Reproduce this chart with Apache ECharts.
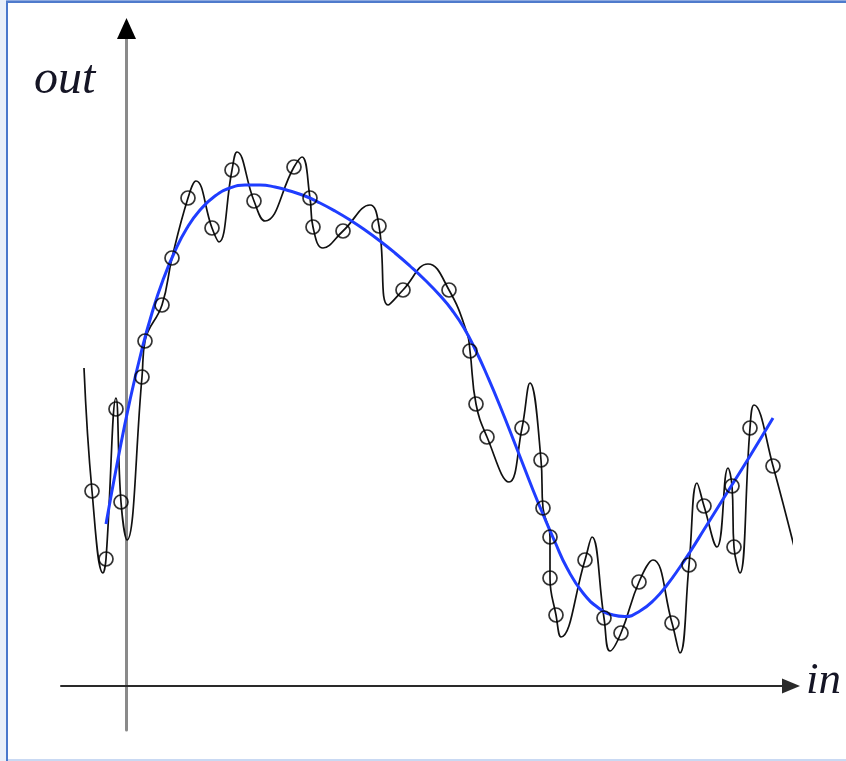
<!DOCTYPE html>
<html>
<head>
<meta charset="utf-8">
<script src="https://cdn.jsdelivr.net/npm/echarts@6/dist/echarts.min.js"></script>
<style>
  html, body { margin: 0; padding: 0; background: #fff; }
  #wrap { position: relative; width: 846px; height: 761px; overflow: hidden; }
  #chart { position: absolute; left: 0; top: 0; width: 846px; height: 761px; }
  .edge { position: absolute; z-index: 5; }
</style>
</head>
<body>
<div id="wrap">
  <div id="chart"></div>
  <div class="edge" style="left:0;top:0;width:6px;height:761px;background:#e9eff9;"></div>
  <div class="edge" style="left:6px;top:0;width:2px;height:761px;background:#4a78cc;"></div>
  <div class="edge" style="left:6px;top:0;width:840px;height:1px;background:#8eaae0;"></div>
  <div class="edge" style="left:6px;top:1px;width:840px;height:2px;background:#4f7bcc;"></div>
  <div class="edge" style="left:8px;top:759px;width:838px;height:2px;background:#c9d9f3;"></div>
</div>
<script>
// Axis labels
const xName = 'in';
const yName = 'out';

// Observed data points (circles): [in, out]
const samples = [
  [-3.45, 19.5], [-2.05, 12.7], [-1.05, 27.7], [-0.55, 18.4], [1.55, 30.9],
  [1.85, 34.5], [3.55, 38.1], [4.55, 42.8], [6.15, 48.8], [8.55, 45.8],
  [10.55, 51.6], [12.75, 48.5], [16.75, 51.9], [18.35, 48.8], [18.65, 45.9],
  [21.65, 45.5], [25.25, 46.0], [27.65, 39.6], [32.25, 39.6], [34.35, 33.5],
  [34.95, 28.2], [36.05, 24.9], [39.55, 25.8], [41.45, 22.6], [41.65, 17.8],
  [42.35, 14.9], [42.35, 10.8], [42.95, 7.1], [45.85, 12.6], [47.75, 6.8],
  [49.45, 5.3], [51.25, 10.4], [54.55, 6.3], [56.25, 12.1], [57.75, 18.0],
  [60.55, 20.0], [60.75, 13.9], [62.35, 25.8], [64.65, 22.0]
];

// Overfitted (wiggly) curve: [in, out]
const overfit = [
  [-4.25, 31.8], [-3.45, 19.5], [-2.35, 11.3], [-2.05, 12.7], [-1.05, 28.8],
  [-0.55, 18.4], [0.05, 14.6], [1.55, 30.9], [1.85, 34.5], [3.55, 38.1],
  [4.55, 42.8], [6.15, 48.8], [6.95, 50.5], [8.55, 45.8], [9.25, 44.4],
  [10.55, 51.6], [11.05, 53.4], [12.75, 48.5], [13.85, 46.5], [16.75, 51.9],
  [17.55, 52.9], [18.35, 48.8], [18.65, 45.9], [19.65, 43.8], [21.65, 45.5],
  [24.35, 48.1], [25.25, 46.0], [26.15, 38.1], [27.65, 39.6], [30.15, 42.2],
  [32.25, 39.6], [34.05, 35.3], [34.35, 33.5], [34.95, 28.2], [36.05, 24.9],
  [38.25, 20.4], [39.55, 25.8], [40.35, 30.3], [41.45, 22.6], [41.65, 17.8],
  [42.35, 14.9], [42.35, 10.8], [42.95, 7.1], [43.45, 4.9], [45.85, 12.6],
  [46.55, 14.9], [47.75, 6.8], [48.35, 3.5], [49.45, 5.3], [51.25, 10.4],
  [52.65, 12.6], [54.55, 6.3], [55.35, 3.3], [56.25, 12.1], [57.05, 20.3],
  [57.75, 18.0], [59.05, 13.9], [60.15, 21.8], [60.55, 20.0], [60.75, 13.9],
  [61.35, 11.3], [62.35, 25.8], [62.75, 28.1], [64.65, 22.0], [67.65, 10.3]
];

// Smooth fitted curve: [in, out]
const fitted = [
  [-2.05, 16.2], [-0.85, 22.7], [0.35, 28.6], [1.55, 33.7], [2.55, 37.3],
  [3.65, 40.6], [4.85, 43.5], [6.05, 45.8], [7.35, 47.6], [8.85, 49.0],
  [10.35, 49.8], [11.85, 50.1], [13.35, 50.1], [14.85, 49.9], [16.35, 49.5],
  [17.85, 49.0], [19.35, 48.3], [20.85, 47.5], [22.35, 46.6], [23.85, 45.6],
  [25.35, 44.5], [26.85, 43.3], [28.35, 42.0], [29.85, 40.6], [31.35, 39.05],
  [32.55, 37.6], [33.75, 35.8], [34.95, 33.5], [36.15, 30.85], [37.35, 28.0],
  [39.05, 23.7], [40.65, 19.6], [41.85, 16.7], [42.85, 14.4], [44.05, 11.8],
  [45.65, 9.3], [47.35, 7.7], [48.65, 7.1], [49.85, 6.95], [51.35, 7.5],
  [52.85, 8.7], [54.05, 10.1], [55.35, 11.9], [56.35, 13.4], [57.85, 15.8],
  [59.35, 18.2], [60.85, 20.6], [62.35, 23.0], [64.65, 26.8]
];

const xRange = [-6.55, 66.45];
const yRange = [-4.4, 65.75];

const labelFont = {
  fontFamily: 'Liberation Serif',
  fontStyle: 'italic',
  fontWeight: 'normal',
  color: '#151525'
};

const chart = echarts.init(document.getElementById('chart'), null, { renderer: 'canvas' });
chart.setOption({
  animation: false,
  backgroundColor: 'transparent',
  title: [
    { text: yName, left: 34, top: 56, padding: 0, textStyle: Object.assign({ fontSize: 48 }, labelFont) },
    { text: xName, left: 806, top: 659, padding: 0, textStyle: Object.assign({ fontSize: 45 }, labelFont) }
  ],
  grid: { left: 61, right: 55, top: 28.5, bottom: 31, containLabel: false },
  xAxis: {
    type: 'value', min: xRange[0], max: xRange[1],
    axisLine: {
      show: true, onZero: true,
      symbol: ['none', 'triangle'], symbolSize: [15, 18],
      lineStyle: { color: '#2a2a2a', width: 2 }
    },
    axisTick: { show: false }, axisLabel: { show: false }, splitLine: { show: false }
  },
  yAxis: [
    {
      type: 'value', min: yRange[0], max: yRange[1], position: 'left',
      axisLine: {
        show: true, onZero: true, symbol: 'none',
        lineStyle: { color: '#8a8a8a', width: 3 }
      },
      axisTick: { show: false }, axisLabel: { show: false }, splitLine: { show: false }
    },
    {
      type: 'value', min: yRange[0], max: yRange[1], position: 'left', offset: -65.5,
      axisLine: {
        show: true, onZero: false,
        symbol: ['none', 'triangle'], symbolSize: [19, 21],
        lineStyle: { color: '#000', width: 0 }
      },
      axisTick: { show: false }, axisLabel: { show: false }, splitLine: { show: false }
    }
  ],
  series: [
    {
      type: 'line', data: overfit, smooth: 0.45, showSymbol: false, clip: false,
      lineStyle: { color: '#111', width: 1.7 }, z: 2
    },
    {
      type: 'line', data: fitted, smooth: 0.5, showSymbol: false, clip: false,
      lineStyle: { color: '#1f3dff', width: 3 }, z: 3
    },
    {
      type: 'scatter', data: samples, symbol: 'circle', symbolSize: 14, clip: false,
      itemStyle: { color: 'rgba(0,0,0,0)', borderColor: '#000', borderWidth: 1.7 }, z: 4
    }
  ]
});
</script>
</body>
</html>
